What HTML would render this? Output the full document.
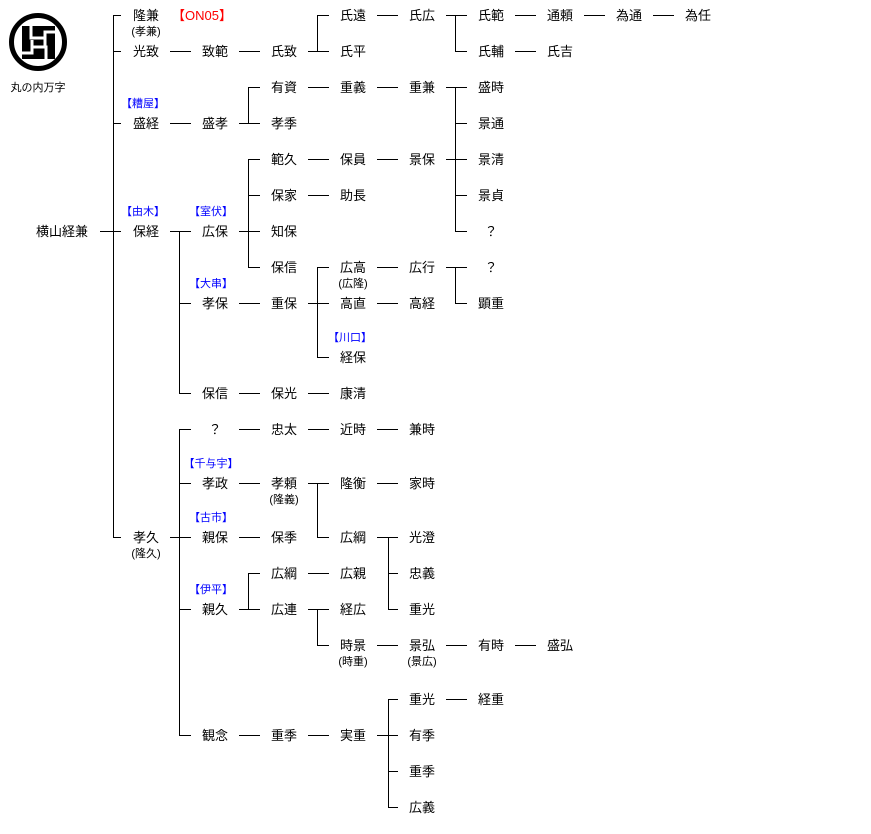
<!DOCTYPE html>
<html><head><meta charset="utf-8"><style>
html,body{margin:0;padding:0;background:#fff;}
svg{display:block;}
text{font-family:"Liberation Sans","Noto Sans CJK JP",sans-serif;}
.n{font-size:13px;text-anchor:middle;fill:#000;}
.s{font-size:11px;text-anchor:middle;fill:#000;}
.b{font-size:11px;text-anchor:middle;fill:#0000ff;}
</style></head><body>
<svg width="871" height="834" viewBox="0 0 871 834" xmlns="http://www.w3.org/2000/svg">
<g>
<circle cx="38" cy="42" r="26.5" fill="none" stroke="#000" stroke-width="5"/>
<rect x="22" y="26" width="33" height="33" fill="#000"/>
<g stroke="#fff" stroke-width="3" fill="none">
<polyline points="31,26 31,38 45,38"/>
<polyline points="55,32 45,32 45,46"/>
<polyline points="46,59 46,47 32,47"/>
<polyline points="22,53 32,53 32,40"/>
</g>
<text x="38" y="91" class="s">丸の内万字</text>
</g>
<g stroke="#000" stroke-width="1" fill="none" shape-rendering="crispEdges">
<!-- root -->
<line x1="100" y1="231.5" x2="113" y2="231.5"/>
<line x1="113.5" y1="15" x2="113.5" y2="537"/>
<line x1="113" y1="15.5" x2="121" y2="15.5"/>
<line x1="113" y1="51.5" x2="121" y2="51.5"/>
<line x1="113" y1="123.5" x2="121" y2="123.5"/>
<line x1="113" y1="231.5" x2="121" y2="231.5"/>
<line x1="113" y1="537.5" x2="121" y2="537.5"/>
<!-- row 51 -->
<line x1="170" y1="51.5" x2="191" y2="51.5"/>
<line x1="239" y1="51.5" x2="260" y2="51.5"/>
<line x1="308" y1="51.5" x2="317" y2="51.5"/>
<line x1="317.5" y1="15" x2="317.5" y2="51"/>
<line x1="317" y1="15.5" x2="329" y2="15.5"/>
<line x1="317" y1="51.5" x2="329" y2="51.5"/>
<line x1="377" y1="15.5" x2="398" y2="15.5"/>
<line x1="446" y1="15.5" x2="455" y2="15.5"/>
<line x1="455.5" y1="15" x2="455.5" y2="51"/>
<line x1="455" y1="15.5" x2="467" y2="15.5"/>
<line x1="455" y1="51.5" x2="467" y2="51.5"/>
<line x1="515" y1="15.5" x2="536" y2="15.5"/>
<line x1="584" y1="15.5" x2="605" y2="15.5"/>
<line x1="653" y1="15.5" x2="674" y2="15.5"/>
<line x1="515" y1="51.5" x2="536" y2="51.5"/>
<!-- 盛経 -->
<line x1="170" y1="123.5" x2="191" y2="123.5"/>
<line x1="239" y1="123.5" x2="248" y2="123.5"/>
<line x1="248.5" y1="87" x2="248.5" y2="123"/>
<line x1="248" y1="87.5" x2="260" y2="87.5"/>
<line x1="248" y1="123.5" x2="260" y2="123.5"/>
<line x1="308" y1="87.5" x2="329" y2="87.5"/>
<line x1="377" y1="87.5" x2="398" y2="87.5"/>
<line x1="446" y1="87.5" x2="455" y2="87.5"/>
<line x1="455.5" y1="87" x2="455.5" y2="231"/>
<line x1="455" y1="87.5" x2="467" y2="87.5"/>
<line x1="455" y1="123.5" x2="467" y2="123.5"/>
<line x1="446" y1="159.5" x2="467" y2="159.5"/>
<line x1="455" y1="195.5" x2="467" y2="195.5"/>
<line x1="455" y1="231.5" x2="467" y2="231.5"/>
<!-- 保経 -->
<line x1="170" y1="231.5" x2="191" y2="231.5"/>
<line x1="179.5" y1="231" x2="179.5" y2="393"/>
<line x1="179" y1="303.5" x2="191" y2="303.5"/>
<line x1="179" y1="393.5" x2="191" y2="393.5"/>
<line x1="239" y1="231.5" x2="260" y2="231.5"/>
<line x1="248.5" y1="159" x2="248.5" y2="267"/>
<line x1="248" y1="159.5" x2="260" y2="159.5"/>
<line x1="248" y1="195.5" x2="260" y2="195.5"/>
<line x1="248" y1="267.5" x2="260" y2="267.5"/>
<line x1="308" y1="159.5" x2="329" y2="159.5"/>
<line x1="377" y1="159.5" x2="398" y2="159.5"/>
<line x1="308" y1="195.5" x2="329" y2="195.5"/>
<line x1="239" y1="303.5" x2="260" y2="303.5"/>
<line x1="308" y1="303.5" x2="329" y2="303.5"/>
<line x1="317.5" y1="267" x2="317.5" y2="357"/>
<line x1="317" y1="267.5" x2="329" y2="267.5"/>
<line x1="317" y1="357.5" x2="329" y2="357.5"/>
<line x1="377" y1="267.5" x2="398" y2="267.5"/>
<line x1="446" y1="267.5" x2="467" y2="267.5"/>
<line x1="455.5" y1="267" x2="455.5" y2="303"/>
<line x1="455" y1="303.5" x2="467" y2="303.5"/>
<line x1="377" y1="303.5" x2="398" y2="303.5"/>
<line x1="239" y1="393.5" x2="260" y2="393.5"/>
<line x1="308" y1="393.5" x2="329" y2="393.5"/>
<!-- 孝久 -->
<line x1="170" y1="537.5" x2="191" y2="537.5"/>
<line x1="179.5" y1="429" x2="179.5" y2="735"/>
<line x1="179" y1="429.5" x2="191" y2="429.5"/>
<line x1="179" y1="483.5" x2="191" y2="483.5"/>
<line x1="179" y1="609.5" x2="191" y2="609.5"/>
<line x1="179" y1="735.5" x2="191" y2="735.5"/>
<line x1="239" y1="429.5" x2="260" y2="429.5"/>
<line x1="308" y1="429.5" x2="329" y2="429.5"/>
<line x1="377" y1="429.5" x2="398" y2="429.5"/>
<line x1="239" y1="483.5" x2="260" y2="483.5"/>
<line x1="308" y1="483.5" x2="329" y2="483.5"/>
<line x1="317.5" y1="483" x2="317.5" y2="537"/>
<line x1="317" y1="537.5" x2="329" y2="537.5"/>
<line x1="377" y1="483.5" x2="398" y2="483.5"/>
<line x1="377" y1="537.5" x2="398" y2="537.5"/>
<line x1="388.5" y1="537" x2="388.5" y2="609"/>
<line x1="388" y1="573.5" x2="398" y2="573.5"/>
<line x1="388" y1="609.5" x2="398" y2="609.5"/>
<line x1="239" y1="537.5" x2="260" y2="537.5"/>
<line x1="239" y1="609.5" x2="260" y2="609.5"/>
<line x1="248.5" y1="573" x2="248.5" y2="609"/>
<line x1="248" y1="573.5" x2="260" y2="573.5"/>
<line x1="308" y1="573.5" x2="329" y2="573.5"/>
<line x1="308" y1="609.5" x2="329" y2="609.5"/>
<line x1="317.5" y1="609" x2="317.5" y2="645"/>
<line x1="317" y1="645.5" x2="329" y2="645.5"/>
<line x1="377" y1="645.5" x2="398" y2="645.5"/>
<line x1="446" y1="645.5" x2="467" y2="645.5"/>
<line x1="515" y1="645.5" x2="536" y2="645.5"/>
<line x1="239" y1="735.5" x2="260" y2="735.5"/>
<line x1="308" y1="735.5" x2="329" y2="735.5"/>
<line x1="377" y1="735.5" x2="398" y2="735.5"/>
<line x1="388.5" y1="699" x2="388.5" y2="807"/>
<line x1="388" y1="699.5" x2="398" y2="699.5"/>
<line x1="388" y1="771.5" x2="398" y2="771.5"/>
<line x1="388" y1="807.5" x2="398" y2="807.5"/>
<line x1="446" y1="699.5" x2="467" y2="699.5"/>
</g>
<g>
<text x="62" y="236" class="n">横山経兼</text>
<text x="146" y="20" class="n">隆兼</text><text x="146" y="35" class="s">(孝兼)</text>
<text x="172" y="20" font-size="13" fill="#ff0000">【ON05】</text>
<text x="146" y="56" class="n">光致</text>
<text x="143" y="107" class="b">【糟屋】</text><text x="146" y="128" class="n">盛経</text>
<text x="143" y="215" class="b">【由木】</text><text x="146" y="236" class="n">保経</text>
<text x="146" y="542" class="n">孝久</text><text x="146" y="557" class="s">(隆久)</text>

<text x="215" y="56" class="n">致範</text>
<text x="215" y="128" class="n">盛孝</text>
<text x="211" y="215" class="b">【室伏】</text><text x="215" y="236" class="n">広保</text>
<text x="211" y="287" class="b">【大串】</text><text x="215" y="308" class="n">孝保</text>
<text x="215" y="398" class="n">保信</text>
<text x="215" y="434" class="n">？</text>
<text x="211" y="467" class="b">【千与宇】</text><text x="215" y="488" class="n">孝政</text>
<text x="211" y="521" class="b">【古市】</text><text x="215" y="542" class="n">親保</text>
<text x="211" y="593" class="b">【伊平】</text><text x="215" y="614" class="n">親久</text>
<text x="215" y="740" class="n">観念</text>

<text x="284" y="56" class="n">氏致</text>
<text x="284" y="92" class="n">有資</text>
<text x="284" y="128" class="n">孝季</text>
<text x="284" y="164" class="n">範久</text>
<text x="284" y="200" class="n">保家</text>
<text x="284" y="236" class="n">知保</text>
<text x="284" y="272" class="n">保信</text>
<text x="284" y="308" class="n">重保</text>
<text x="284" y="398" class="n">保光</text>
<text x="284" y="434" class="n">忠太</text>
<text x="284" y="488" class="n">孝頼</text><text x="284" y="503" class="s">(隆義)</text>
<text x="284" y="542" class="n">保季</text>
<text x="284" y="578" class="n">広綱</text>
<text x="284" y="614" class="n">広連</text>
<text x="284" y="740" class="n">重季</text>

<text x="353" y="20" class="n">氏遠</text>
<text x="353" y="56" class="n">氏平</text>
<text x="353" y="92" class="n">重義</text>
<text x="353" y="164" class="n">保員</text>
<text x="353" y="200" class="n">助長</text>
<text x="353" y="272" class="n">広高</text><text x="353" y="287" class="s">(広隆)</text>
<text x="353" y="308" class="n">高直</text>
<text x="350" y="341" class="b">【川口】</text><text x="353" y="362" class="n">経保</text>
<text x="353" y="398" class="n">康清</text>
<text x="353" y="434" class="n">近時</text>
<text x="353" y="488" class="n">隆衡</text>
<text x="353" y="542" class="n">広綱</text>
<text x="353" y="578" class="n">広親</text>
<text x="353" y="614" class="n">経広</text>
<text x="353" y="650" class="n">時景</text><text x="353" y="665" class="s">(時重)</text>
<text x="353" y="740" class="n">実重</text>

<text x="422" y="20" class="n">氏広</text>
<text x="422" y="92" class="n">重兼</text>
<text x="422" y="164" class="n">景保</text>
<text x="422" y="272" class="n">広行</text>
<text x="422" y="308" class="n">高経</text>
<text x="422" y="434" class="n">兼時</text>
<text x="422" y="488" class="n">家時</text>
<text x="422" y="542" class="n">光澄</text>
<text x="422" y="578" class="n">忠義</text>
<text x="422" y="614" class="n">重光</text>
<text x="422" y="650" class="n">景弘</text><text x="422" y="665" class="s">(景広)</text>
<text x="422" y="704" class="n">重光</text>
<text x="422" y="740" class="n">有季</text>
<text x="422" y="776" class="n">重季</text>
<text x="422" y="812" class="n">広義</text>

<text x="491" y="20" class="n">氏範</text>
<text x="491" y="56" class="n">氏輔</text>
<text x="491" y="92" class="n">盛時</text>
<text x="491" y="128" class="n">景通</text>
<text x="491" y="164" class="n">景清</text>
<text x="491" y="200" class="n">景貞</text>
<text x="491" y="236" class="n">？</text>
<text x="491" y="272" class="n">？</text>
<text x="491" y="308" class="n">顕重</text>
<text x="491" y="650" class="n">有時</text>
<text x="491" y="704" class="n">経重</text>

<text x="560" y="20" class="n">通頼</text>
<text x="560" y="56" class="n">氏吉</text>
<text x="560" y="650" class="n">盛弘</text>
<text x="629" y="20" class="n">為通</text>
<text x="698" y="20" class="n">為任</text>
</g>
</svg>
</body></html>
